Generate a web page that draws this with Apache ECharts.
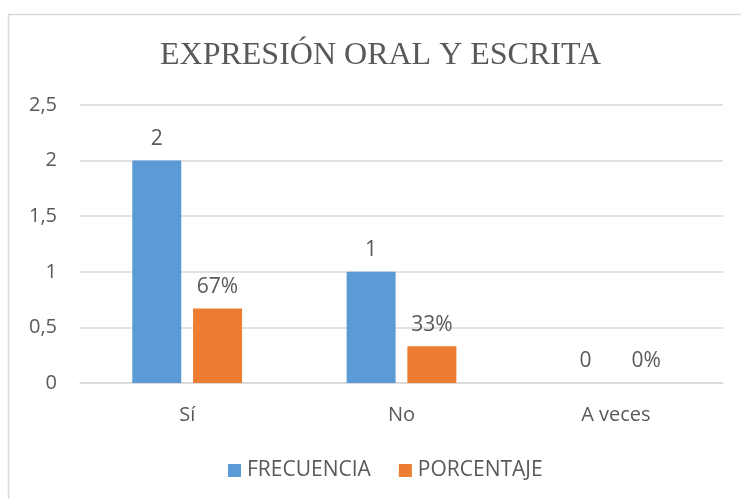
<!DOCTYPE html>
<html>
<head>
<meta charset="utf-8">
<script src="https://cdn.jsdelivr.net/npm/echarts@6/dist/echarts.min.js"></script>
<style>
    html, body { margin: 0; padding: 0; background: #fff; }
    #myChart { width: 741px; height: 499px; }
</style>
</head>
<body>
<div id="myChart"></div>
<script>
    // datos
    var categorias = ['Sí', 'No', 'A veces'];
    var frecuencia = [2, 1, 0];
    var porcentaje = [0.67, 0.33, 0];
    var etiquetasPorcentaje = ['67%', '33%', '0%'];

    var txt = '#595959';
    var fuente = '"Open Sans", Lato, sans-serif';

    var myChart = echarts.init(document.getElementById('myChart'));
    myChart.setOption({
        animation: false,
        title: {
            text: 'EXPRESIÓN ORAL Y ESCRITA',
            left: 155,
            top: 35,
            textStyle: {
                fontFamily: '"Liberation Serif", "DejaVu Serif", serif',
                fontWeight: 'normal',
                fontSize: 32,
                color: txt
            }
        },
        graphic: [{
            type: 'rect',
            shape: {x: 8.5, y: 14.5, width: 760, height: 520},
            style: {fill: 'none', stroke: '#D9D9D9', lineWidth: 1.5},
            silent: true
        }],
        legend: {
            data: ['FRECUENCIA', 'PORCENTAJE'],
            bottom: 13,
            left: 223,
            icon: 'rect',
            itemWidth: 13,
            itemHeight: 13,
            itemGap: 28,
            textStyle: {fontFamily: fuente, fontSize: 21, color: txt, padding: [0, 0, 0, 1]}
        },
        grid: {left: 80, right: 18, top: 105, bottom: 116, containLabel: false},
        xAxis: {
            type: 'category',
            data: categorias,
            axisLine: {show: true, lineStyle: {color: '#D9D9D9', width: 1.5}},
            axisTick: {show: false},
            axisLabel: {fontFamily: fuente, fontSize: 20, color: txt, margin: 22}
        },
        yAxis: {
            type: 'value',
            min: 0,
            max: 2.5,
            interval: 0.5,
            axisLine: {show: false},
            axisTick: {show: false},
            splitLine: {lineStyle: {color: '#D9D9D9', width: 1.5}},
            axisLabel: {
                fontFamily: fuente, fontSize: 20, color: txt, margin: 23,
                formatter: function (v) { return String(v).replace('.', ','); }
            }
        },
        series: [{
            name: 'FRECUENCIA',
            type: 'bar',
            data: frecuencia,
            barWidth: 49,
            barGap: '24%',
            itemStyle: {color: '#5B9BD5'},
            label: {
                show: true, position: 'top', distance: 11,
                fontFamily: fuente, fontSize: 21, color: txt
            }
        }, {
            name: 'PORCENTAJE',
            type: 'bar',
            data: porcentaje,
            barWidth: 49,
            itemStyle: {color: '#ED7D31'},
            label: {
                show: true, position: 'top', distance: 11,
                fontFamily: fuente, fontSize: 21, color: txt,
                formatter: function (p) { return etiquetasPorcentaje[p.dataIndex]; }
            }
        }]
    });
</script>
</body>
</html>
